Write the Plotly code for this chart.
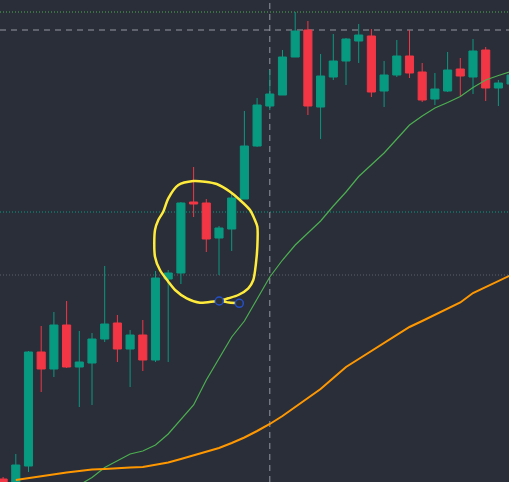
import plotly.graph_objects as go

# candle index positions
idx = list(range(-1, 40))

# OHLC values (price units)
opens  = [21, 10, 34, 148, 131, 175, 133, 137, 161, 177, 151, 165, 140, 221, 227, 298, 297, 262, 271, 301,
          354, 394, 405, 443, 470, 393, 423, 439, 459, 464, 409, 425, 444, 428, 401, 409, 431, 423, 450, 412, 416]
highs  = [23, 46, 149, 174, 188, 199, 169, 167, 234, 185, 170, 180, 229, 230, 298, 333, 301, 274, 308, 389,
          402, 430, 450, 488, 479, 446, 466, 462, 476, 471, 439, 460, 470, 437, 427, 448, 442, 461, 453, 420, 430]
lows   = [5, 8, 28, 108, 123, 132, 93, 95, 158, 138, 113, 129, 138, 138, 216, 283, 248, 225, 249, 301,
          353, 390, 405, 443, 385, 361, 420, 415, 437, 403, 393, 423, 422, 398, 395, 408, 404, 406, 399, 394, 405]
closes = [10, 35, 148, 131, 175, 133, 138, 161, 176, 151, 165, 140, 222, 227, 297, 296, 261, 272, 302, 354,
          395, 406, 443, 469, 394, 424, 439, 461, 465, 408, 425, 444, 427, 400, 411, 430, 424, 449, 412, 417, 425]

# slow moving average (orange), indices 0..39
slow_idx = list(range(0, 40))
slow_ma = [20, 22, 24, 26, 27.5, 29, 30.5, 31, 32, 32.5, 33, 35, 37.5, 41, 44.5, 48, 52, 57, 62.5, 69,
           76, 84, 93, 101.5, 111, 122, 133, 141, 149, 156.5, 165, 173, 179, 185, 191.5, 197.5, 207, 213, 219, 225]

# fast moving average (green), indices 5..39
fast_idx = list(range(5, 40))
fast_ma = [15, 22.5, 32.5, 39, 46, 49, 55, 66, 80, 95, 120, 142, 163, 179, 201, 223, 240, 255, 267, 279,
           294, 308, 323.5, 335, 347, 361, 375, 384, 392, 397.5, 403.5, 412.5, 420, 424.5, 428.5]

# horizontal level lines (price) and crosshair position (candle index)
level_green = 488
level_cross = 470
level_teal = 288
level_gray = 225
cross_x = 20

# hand-drawn highlight (x index, price)
brush_x = [17.60, 16.79, 16.02, 14.50, 13.46, 12.54, 12.01, 11.35, 10.96, 10.96, 11.22, 11.61, 12.01, 12.80,
           13.98, 14.90, 15.82, 16.87, 17.65, 18.44, 18.83, 19.02, 19.02, 18.91, 18.70, 18.31, 17.52, 16.73, 16.16]
brush_y = [196.7, 197.5, 199, 197.3, 201.7, 210, 218.3, 230, 243.3, 270, 280, 288.3, 301.7, 315,
           319, 318.3, 316, 308.3, 300, 290, 280, 273.3, 253.3, 236.7, 220, 211.7, 205, 201.7, 199.5]
handle_x = [16.02, 17.60]
handle_y = [199, 196.7]

BG = "#2a2e39"
UP = "#089981"
DOWN = "#f23645"

fig = go.Figure()

fig.add_trace(go.Scatter(x=fast_idx, y=fast_ma, mode="lines",
                         line=dict(color="#4caf50", width=1.2), hoverinfo="skip"))
fig.add_trace(go.Scatter(x=slow_idx, y=slow_ma, mode="lines",
                         line=dict(color="#ff9800", width=2), hoverinfo="skip"))

fig.add_trace(go.Candlestick(
    x=idx, open=opens, high=highs, low=lows, close=closes,
    increasing=dict(line=dict(color=UP, width=1), fillcolor=UP),
    decreasing=dict(line=dict(color=DOWN, width=1), fillcolor=DOWN),
    whiskerwidth=0, hoverinfo="skip"))

fig.add_trace(go.Scatter(x=brush_x, y=brush_y, mode="lines",
                         line=dict(color="#ffeb3b", width=2.5, shape="spline", smoothing=0.8),
                         hoverinfo="skip"))
fig.add_trace(go.Scatter(x=handle_x, y=handle_y, mode="markers",
                         marker=dict(symbol="circle", size=8, color=BG,
                                     line=dict(color="#2450c8", width=1.5)),
                         hoverinfo="skip"))

shapes = [
    dict(type="line", xref="paper", x0=0, x1=1, y0=level_green, y1=level_green,
         line=dict(color="#4caf50", width=1, dash="1px,2px"), layer="below"),
    dict(type="line", xref="paper", x0=0, x1=1, y0=level_cross, y1=level_cross,
         line=dict(color="#9598a1", width=1, dash="6px,5px"), layer="below"),
    dict(type="line", xref="paper", x0=0, x1=1, y0=level_teal, y1=level_teal,
         line=dict(color="#089981", width=1, dash="1px,2px"), layer="below"),
    dict(type="line", xref="paper", x0=0, x1=1, y0=level_gray, y1=level_gray,
         line=dict(color="#5d606b", width=1, dash="1px,2px"), layer="below"),
    dict(type="line", yref="paper", x0=cross_x, x1=cross_x, y0=0, y1=1,
         line=dict(color="#9598a1", width=1, dash="6px,5px"), layer="below"),
]

fig.update_layout(
    width=509, height=482,
    margin=dict(l=0, r=0, t=0, b=0),
    paper_bgcolor=BG, plot_bgcolor=BG,
    showlegend=False,
    boxgap=0.36, boxgroupgap=0,
    shapes=shapes,
    xaxis=dict(range=[-1.244, 38.835], visible=False, rangeslider=dict(visible=False),
               showgrid=False, zeroline=False),
    yaxis=dict(range=[18, 500], visible=False, showgrid=False, zeroline=False),
)

fig.write_html("out.html",
               config={"displayModeBar": False},
               post_script="document.body.style.margin='0';document.body.style.padding='0';"
                           "document.body.style.background='" + BG + "';")
